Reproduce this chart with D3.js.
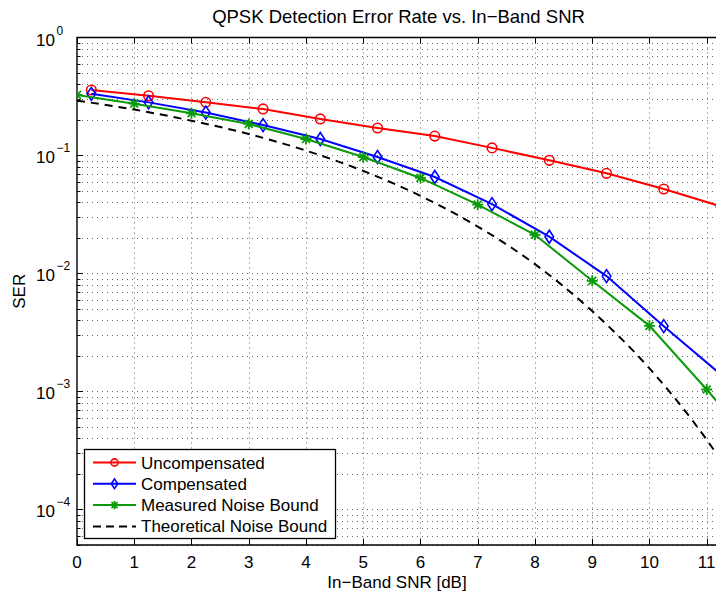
<!DOCTYPE html>
<html>
<head>
<meta charset="utf-8">
<script src="https://cdn.jsdelivr.net/npm/d3@7"></script>
<style>
  body { margin: 0; background: #fff; }
  text { font-family: "Liberation Sans", Arial, sans-serif; fill: #000; }
</style>
</head>
<body>
<div id="chart"></div>
<script>
// datos
const snrMarks = [0.25, 1.25, 2.25, 3.25, 4.25, 5.25, 6.25, 7.25, 8.25, 9.25, 10.25, 11.25];
const uncompensated = [0.359, 0.321, 0.282, 0.248, 0.204, 0.171, 0.146, 0.116, 0.091, 0.0706, 0.052, 0.037];
const compensated = [0.333, 0.282, 0.231, 0.181, 0.138, 0.097, 0.0657, 0.0387, 0.0205, 0.0095, 0.00358, 0.00139];
const snrInt = [0, 1, 2, 3, 4, 5, 6, 7, 8, 9, 10, 11, 12];
const measured = [0.326, 0.275, 0.228, 0.185, 0.138, 0.097, 0.0645, 0.0383, 0.0213, 0.00867, 0.0036, 0.00104, 0.00028];
const theoretical = [0.292, 0.245, 0.197, 0.152, 0.110, 0.074, 0.0455, 0.025, 0.012, 0.0048, 0.00157, 0.00039, 0.000069];
const xTicks = [0, 1, 2, 3, 4, 5, 6, 7, 8, 9, 10, 11];
const yDecades = [-4, -3, -2, -1, 0];

const width = 716, height = 595;
const margin = { top: 37.5, left: 77, bottom: 50 };
const plotRight = 717;
const plotBottom = height - margin.bottom;

const svg = d3.select("#chart").append("svg")
    .attr("width", width)
    .attr("height", height);

const x = d3.scaleLinear([0, 11.18], [margin.left, plotRight]);
const y = d3.scaleLog([5e-5, 1], [plotBottom, margin.top]);

// rejilla punteada
const minorY = [];
for (let e = -5; e <= -1; e++) {
  for (let m = 1; m <= 9; m++) {
    const v = m * Math.pow(10, e);
    if (v >= 5e-5 && v <= 1) minorY.push(v);
  }
}
const grid = svg.append("g")
    .attr("stroke", "#666")
    .attr("stroke-width", 1)
    .attr("stroke-dasharray", "1,4");
grid.selectAll(".gy").data(minorY).join("line")
    .attr("x1", margin.left).attr("x2", plotRight)
    .attr("y1", d => Math.round(y(d)) + 0.5).attr("y2", d => Math.round(y(d)) + 0.5);
grid.selectAll(".gx").data(xTicks.slice(1)).join("line")
    .attr("x1", d => Math.round(x(d)) + 0.5).attr("x2", d => Math.round(x(d)) + 0.5)
    .attr("y1", margin.top).attr("y2", plotBottom);

// marcas de los ejes
const ticks = svg.append("g").attr("stroke", "#000").attr("stroke-width", 1);
ticks.selectAll(".tb").data(xTicks).join("line")
    .attr("x1", d => Math.round(x(d)) + 0.5).attr("x2", d => Math.round(x(d)) + 0.5)
    .attr("y1", plotBottom).attr("y2", plotBottom - 6);
ticks.selectAll(".tt").data(xTicks).join("line")
    .attr("x1", d => Math.round(x(d)) + 0.5).attr("x2", d => Math.round(x(d)) + 0.5)
    .attr("y1", margin.top).attr("y2", margin.top + 6);
ticks.selectAll(".ty").data(minorY).join("line")
    .attr("x1", margin.left)
    .attr("x2", d => margin.left + (Number.isInteger(Math.log10(d)) ? 6 : 3.5))
    .attr("y1", d => Math.round(y(d)) + 0.5).attr("y2", d => Math.round(y(d)) + 0.5);

// caja
svg.append("path")
    .attr("fill", "none")
    .attr("stroke", "#000")
    .attr("stroke-width", 1.4)
    .attr("d", `M${plotRight},${margin.top}H${margin.left}V${plotBottom}H${plotRight}`);

// etiquetas
svg.append("g").selectAll("text").data(xTicks).join("text")
    .attr("x", d => x(d))
    .attr("y", plotBottom + 23)
    .attr("text-anchor", "middle")
    .attr("font-size", 17)
    .text(d => d);

svg.append("g").selectAll("text").data(yDecades).join("text")
    .attr("x", 55)
    .attr("y", d => y(Math.pow(10, d)) + 8)
    .attr("font-size", 17)
    .attr("text-anchor", "end")
    .text("10");
svg.append("g").selectAll("text").data(yDecades).join("text")
    .attr("x", 56.5)
    .attr("y", d => y(Math.pow(10, d)) - 3)
    .attr("font-size", 12)
    .text(d => d === 0 ? "0" : "\u2212" + (-d));

svg.append("text")
    .attr("x", 398.5).attr("y", 23)
    .attr("text-anchor", "middle")
    .attr("font-size", 18.5)
    .text("QPSK Detection Error Rate vs. In\u2212Band SNR");

svg.append("text")
    .attr("x", 397).attr("y", 588)
    .attr("text-anchor", "middle")
    .attr("font-size", 17)
    .text("In\u2212Band SNR [dB]");

svg.append("text")
    .attr("transform", `translate(25,${(margin.top + plotBottom) / 2}) rotate(-90)`)
    .attr("text-anchor", "middle")
    .attr("font-size", 17)
    .text("SER");

// series
svg.append("clipPath").attr("id", "clip").append("rect")
    .attr("x", margin.left).attr("y", margin.top)
    .attr("width", plotRight - margin.left).attr("height", plotBottom - margin.top);
const plot = svg.append("g").attr("clip-path", "url(#clip)");

const green = "#0a9a0a";
const series = [
  { name: "Uncompensated", xs: snrMarks, ys: uncompensated, color: "#ff0000", marker: "circle" },
  { name: "Compensated", xs: snrMarks, ys: compensated, color: "#0000ff", marker: "diamond" },
  { name: "Measured Noise Bound", xs: snrInt, ys: measured, color: green, marker: "star" },
  { name: "Theoretical Noise Bound", xs: snrInt, ys: theoretical, color: "#000", marker: null, dash: "8,6" }
];

function drawMarker(g, type, color, s) {
  if (type === "circle") {
    g.append("circle").attr("r", 4.8 * s)
      .attr("fill", "none").attr("stroke", color).attr("stroke-width", 1.6);
  } else if (type === "diamond") {
    g.append("path").attr("d", `M0,${-6.5 * s}L${4.3 * s},0L0,${6.5 * s}L${-4.3 * s},0Z`)
      .attr("fill", "none").attr("stroke", color).attr("stroke-width", 1.6);
  } else if (type === "star") {
    const r = 5.5 * s, q = r * 0.72;
    g.append("path").attr("d", `M${-r},0H${r}M0,${-r}V${r}M${-q},${-q}L${q},${q}M${-q},${q}L${q},${-q}`)
      .attr("stroke", color).attr("stroke-width", 1.8);
  }
}

series.forEach(s => {
  const pts = s.xs.map((d, i) => [d, s.ys[i]]);
  const line = d3.line()
      .x(d => x(d[0]))
      .y(d => y(d[1]))
      .curve(s.marker ? d3.curveLinear : d3.curveMonotoneX);
  plot.append("path")
      .attr("fill", "none")
      .attr("stroke", s.color)
      .attr("stroke-width", 2)
      .attr("stroke-dasharray", s.dash || null)
      .attr("d", line(pts));
  if (s.marker) {
    pts.forEach(p => {
      const g = plot.append("g").attr("transform", `translate(${x(p[0])},${y(p[1])})`);
      drawMarker(g, s.marker, s.color, 1);
    });
  }
});

// leyenda
const lg = svg.append("g").attr("transform", "translate(84.5,449.5)");
lg.append("rect")
    .attr("width", 251).attr("height", 89)
    .attr("fill", "#fff").attr("stroke", "#000").attr("stroke-width", 1.3);
series.forEach((s, i) => {
  const yy = 13 + i * 21.3;
  lg.append("line")
      .attr("x1", 8.5).attr("x2", 51.5).attr("y1", yy).attr("y2", yy)
      .attr("stroke", s.color).attr("stroke-width", 2)
      .attr("stroke-dasharray", s.dash ? "8,5" : null);
  if (s.marker) {
    drawMarker(lg.append("g").attr("transform", `translate(30,${yy})`), s.marker, s.color, 0.75);
  }
  lg.append("text")
      .attr("x", 56.5).attr("y", yy + 6)
      .attr("font-size", 17)
      .text(s.name);
});
</script>
</body>
</html>
